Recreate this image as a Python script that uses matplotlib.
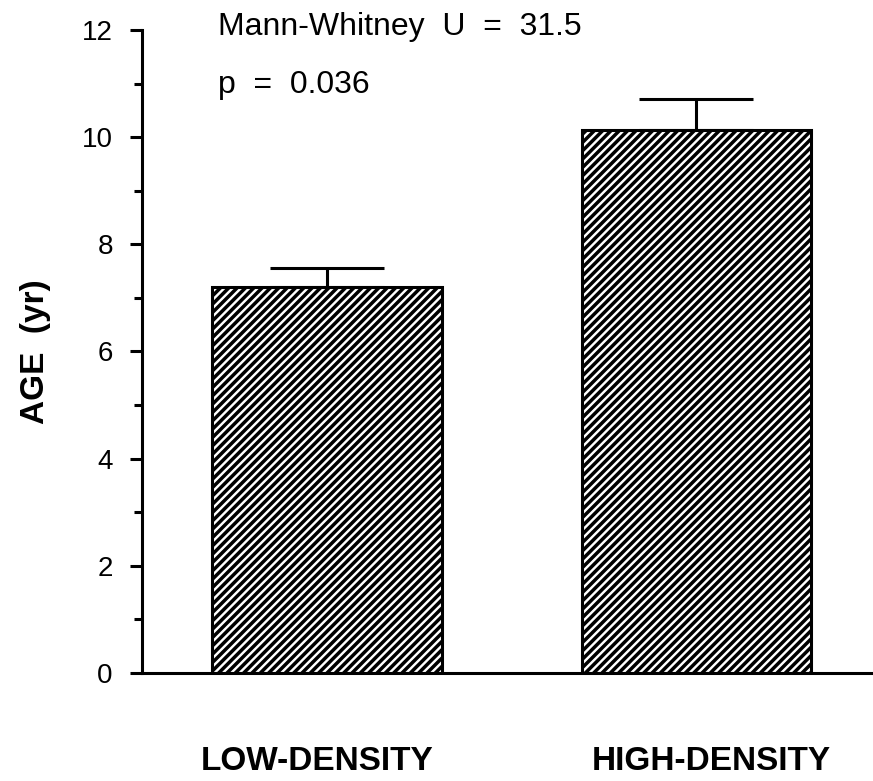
import matplotlib.pyplot as plt
import numpy as np

# data
groups = ['LOW-DENSITY', 'HIGH-DENSITY']
age = [7.20, 10.13]
age_err = [0.36, 0.58]
stat_lines = ['Mann-Whitney  U  =  31.5', 'p  =  0.036']

plt.rcParams['font.family'] = ['Liberation Sans', 'DejaVu Sans']
plt.rcParams['hatch.linewidth'] = 2.5

fig = plt.figure(figsize=(8.73, 7.81), dpi=100)
ax = fig.add_axes([0.1627, 0.1383, 0.8373, 0.8233])

x = np.arange(len(groups))
ax.bar(x, age, width=0.622, color='white', edgecolor='black',
       linewidth=2.2, hatch='////', zorder=2)
# only the upper half of the error bar
ax.errorbar(x, age, yerr=[np.zeros(len(age)), age_err], fmt='none',
            ecolor='black', elinewidth=2.2, capsize=41, capthick=2.2, zorder=1)

ax.set_xlim(-0.5007, 1.478)
ax.set_ylim(0, 12)
ax.set_yticks(np.arange(0, 13, 2))
ax.set_yticks(np.arange(1, 12, 2), minor=True)
ax.set_xticks([])
ax.tick_params(axis='y', which='major', length=9, width=2.2, pad=12, labelsize=20)
ax.tick_params(axis='y', which='minor', length=6, width=2.2)

# group names sit well below the axis, slightly off the bar centres
label_shift = [-0.027, 0.04]
for xi, name, dx in zip(x, groups, label_shift):
    ax.text(xi + dx, -0.137, name, transform=ax.get_xaxis_transform(),
            ha='center', va='center', fontsize=24, fontweight='bold')

for s in ['top', 'right']:
    ax.spines[s].set_visible(False)
ax.spines['left'].set_linewidth(2.2)
ax.spines['bottom'].set_linewidth(2.2)

ax.set_ylabel('AGE  (yr)', fontsize=24, fontweight='bold')
ax.yaxis.set_label_coords(-0.125, 0.5)

ax.text(-0.295, 11.90, stat_lines[0], fontsize=23, va='baseline')
ax.text(-0.295, 10.82, stat_lines[1], fontsize=23, va='baseline')

fig.savefig('out.png', dpi=100)
